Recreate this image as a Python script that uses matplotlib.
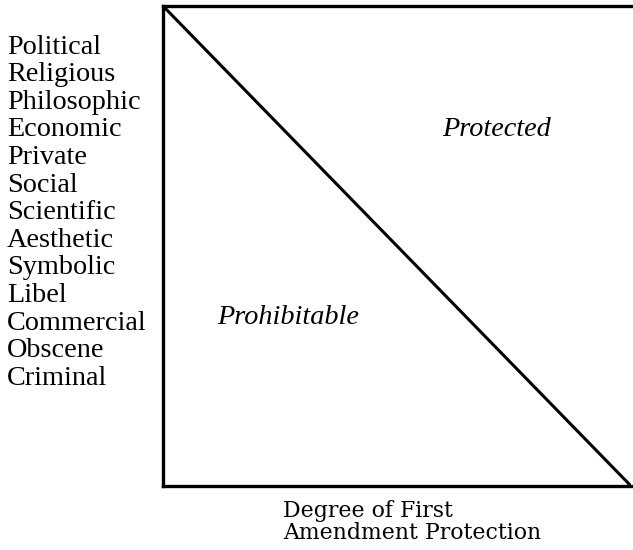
import matplotlib
matplotlib.use("Agg")
import matplotlib.pyplot as plt

categories = ["Political", "Religious", "Philosophic", "Economic", "Private", "Social",
              "Scientific", "Aesthetic", "Symbolic", "Libel", "Commercial", "Obscene", "Criminal"]
boundary_x = [0, 1]
boundary_y = [1, 0]
region_labels = ["Protected", "Prohibitable"]
xlabel = "Degree of First\nAmendment Protection"

W, H = 633, 550
fig = plt.figure(figsize=(W / 100, H / 100), dpi=100)
ax_l, ax_r, ax_t, ax_b = 163, 631, 6, 486
ax = fig.add_axes([ax_l / W, 1 - ax_b / H, (ax_r - ax_l) / W, (ax_b - ax_t) / H])
ax.set_xlim(0, 1)
ax.set_ylim(0, 1)
ax.plot(boundary_x, boundary_y, color="black", lw=2.2, solid_capstyle="butt")
for s in ["left", "bottom", "top"]:
    ax.spines[s].set_linewidth(2.4)
ax.spines["right"].set_visible(False)
ax.set_xticks([])
ax.set_yticks([])

serif = ["Liberation Serif", "DejaVu Serif"]
fs = 20.3
for i, c in enumerate(categories):
    ypix = 47 + i * 27.6
    fig.text(7 / W, 1 - ypix / H, c, family=serif, fontsize=fs, ha="left", va="center")

fig.text(497 / W, 1 - 129 / H, region_labels[0], family=serif, style="italic", fontsize=fs,
         ha="center", va="center")
fig.text(288 / W, 1 - 317 / H, region_labels[1], family=serif, style="italic", fontsize=fs,
         ha="center", va="center")

fig.text(283 / W, 1 - 500 / H, xlabel, family=["DejaVu Serif"], fontsize=15.8, ha="left",
         va="top", linespacing=1.0)

fig.savefig("out.png", dpi=100)
